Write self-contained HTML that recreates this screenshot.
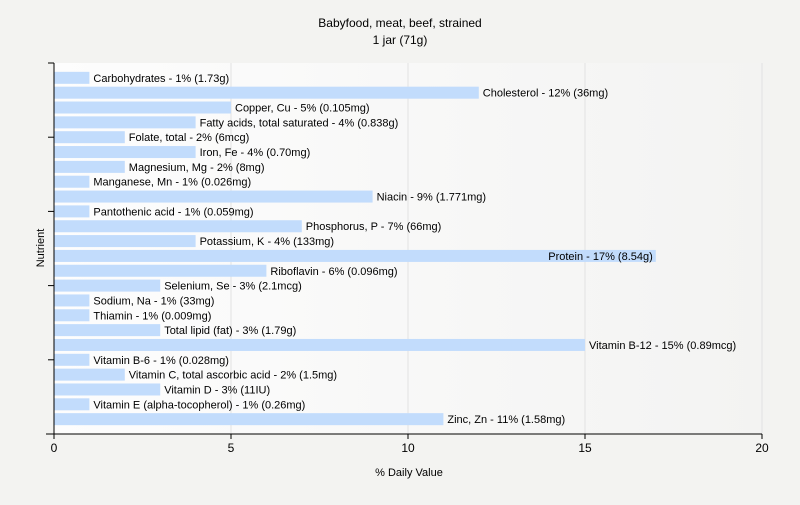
<!DOCTYPE html>
<html><head><meta charset="utf-8"><style>
body{margin:0;background:#f3f3f1;font-family:"Liberation Sans",sans-serif;}
svg text{font-family:"Liberation Sans",sans-serif;}
</style></head><body>
<svg width="800" height="500" xmlns="http://www.w3.org/2000/svg">
<defs><linearGradient id="bg" x1="0" x2="1" y1="0" y2="0"><stop offset="0" stop-color="#fdfdfd"/><stop offset="1" stop-color="#f3f3f2"/></linearGradient></defs>
<rect width="800" height="500" fill="#f3f3f1"/>
<rect x="54" y="63" width="709" height="371" fill="url(#bg)"/>
<text x="400" y="27" text-anchor="middle" font-size="12">Babyfood, meat, beef, strained</text>
<text x="400" y="44" text-anchor="middle" font-size="12">1 jar (71g)</text>
<g id="grid"></g><g id="bars"></g><g id="axes"></g>
<text x="409" y="476" text-anchor="middle" font-size="11">% Daily Value</text>
<text x="44" y="248" text-anchor="middle" font-size="11" transform="rotate(-90 44 248)">Nutrient</text>
</svg>
<script>
const categories=["Carbohydrates","Cholesterol","Copper, Cu","Fatty acids, total saturated","Folate, total","Iron, Fe","Magnesium, Mg","Manganese, Mn","Niacin","Pantothenic acid","Phosphorus, P","Potassium, K","Protein","Riboflavin","Selenium, Se","Sodium, Na","Thiamin","Total lipid (fat)","Vitamin B-12","Vitamin B-6","Vitamin C, total ascorbic acid","Vitamin D","Vitamin E (alpha-tocopherol)","Zinc, Zn"];
const values=[1,12,5,4,2,4,2,1,9,1,7,4,17,6,3,1,1,3,15,1,2,3,1,11];
const amounts=["1.73g","36mg","0.105mg","0.838g","6mcg","0.70mg","8mg","0.026mg","1.771mg","0.059mg","66mg","133mg","8.54g","0.096mg","2.1mcg","33mg","0.009mg","1.79g","0.89mcg","0.028mg","1.5mg","11IU","0.26mg","1.58mg"];
const xTicks=[0,5,10,15,20];
const NS="http://www.w3.org/2000/svg";
const x0=54,x1=762,xMax=20,yTop=63,yBot=434;
const slot=(yBot-yTop)/(categories.length+1);
const xs=v=>x0+v/xMax*(x1-x0);
const ys=i=>yTop+slot*(i+1);
function mk(t,a,p){const e=document.createElementNS(NS,t);for(const k in a)e.setAttribute(k,a[k]);p.appendChild(e);return e;}
const grid=document.getElementById('grid'),bars=document.getElementById('bars'),axes=document.getElementById('axes');
xTicks.forEach(t=>{if(t>0){const g=mk('line',{x1:xs(t),x2:xs(t),y1:yTop,y2:yBot,stroke:'#e2e2e2'},grid);}
const tk=mk('line',{x1:xs(t),x2:xs(t),y1:yBot,y2:yBot+5,stroke:'#000'},axes);
const tl=mk('text',{x:xs(t),y:yBot+18,'text-anchor':'middle','font-size':12},axes);tl.textContent=t;});
categories.forEach((c,i)=>{const y=ys(i),w=xs(values[i])-x0;
const r=mk('rect',{x:x0,y:y-6,width:w,height:12,fill:'#c2dcfc'},bars);
const inside=values[i]>=16;
const t=mk('text',{x:inside?xs(values[i])-3:xs(values[i])+4,y:y+4,'font-size':11,'text-anchor':inside?'end':'start'},bars);
t.textContent=c+' - '+values[i]+'% ('+amounts[i]+')';});
[-1,4,9,14,19,24].forEach(i=>{const y=i<0?yTop:(i>=24?yBot:ys(i));const l=mk('line',{x1:x0-6,x2:x0,y1:y,y2:y,stroke:'#000'},axes);});
let a=mk('line',{x1:x0,x2:x0,y1:yTop,y2:yBot,stroke:'#000'},axes);
a=mk('line',{x1:x0-8,x2:x1,y1:yBot,y2:yBot,stroke:'#000'},axes);
</script></body></html>
